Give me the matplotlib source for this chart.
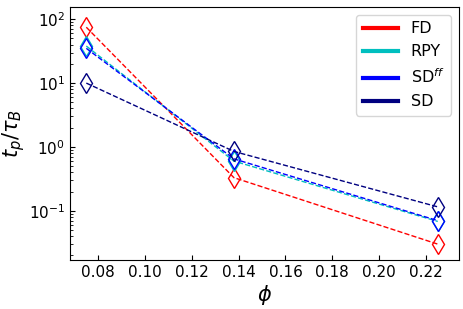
import numpy as np
import matplotlib.pyplot as plt
from matplotlib.lines import Line2D

phi = [0.075, 0.138, 0.225]
t_fd = [75.0, 0.33, 0.030]
t_rpy = [38.0, 0.60, 0.068]
t_sdff = [35.0, 0.65, 0.070]
t_sd = [10.0, 0.85, 0.115]

series = [("FD", t_fd, "red"), ("RPY", t_rpy, "c"),
          (r"SD$^{ff}$", t_sdff, "blue"), ("SD", t_sd, "navy")]

fig = plt.figure(figsize=(4.63, 3.09), dpi=100)
ax = fig.add_axes([0.151, 0.159, 0.840, 0.818])

handles = []
for label, vals, col in series:
    ax.plot(phi, vals, "--", color=col, lw=1, marker="d", ms=10,
            mfc="none", mec=col, mew=1)
    handles.append(Line2D([], [], color=col, lw=3, label=label))

ax.set_yscale("log")
ax.set_xlim(0.068, 0.234)
ax.set_ylim(0.017, 155)
ax.set_xticks([0.08, 0.10, 0.12, 0.14, 0.16, 0.18, 0.20, 0.22])
ax.tick_params(direction="in", labelsize=11)
ax.tick_params(which="minor", direction="in")
ax.set_xlabel(r"$\phi$", fontsize=15, labelpad=2)
ax.set_ylabel(r"$t_p/\tau_B$", fontsize=15, labelpad=1)
ax.legend(handles=handles, loc="upper right", fontsize=11.5, handlelength=2.2)

fig.savefig("out.png", dpi=100)
